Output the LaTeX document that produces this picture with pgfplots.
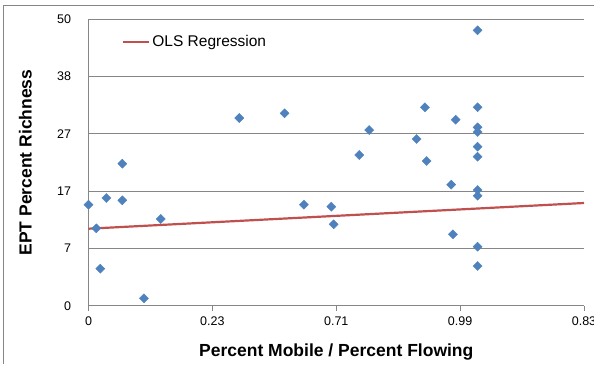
\documentclass[border=0pt]{standalone}
\usepackage{pgfplots}
\pgfplotsset{compat=1.18}
\usepackage{fontspec}
\setmainfont{Liberation Sans}
\definecolor{ptblue}{HTML}{4F81BD}
\definecolor{olsred}{HTML}{C0504D}
\definecolor{gridgray}{HTML}{868686}
\begin{document}
\begin{tikzpicture}[x=1pt,y=1pt]
\useasboundingbox (0,0) rectangle (594,364);
\draw[gridgray, line width=0.8pt] (3.5,0) -- (3.5,359) -- (594,359);
\begin{axis}[
  at={(88.5pt,58.3pt)}, anchor=south west,
  scale only axis, width=495.5pt, height=286.4pt,
  xmin=0, xmax=4, ymin=0, ymax=5,
  axis lines=left, axis line style={-, draw=gridgray, line width=0.8pt},
  xtick={0,1,2,3,4}, xticklabels={0,0.23,0.71,0.99,0.83},
  ytick={0,1,2,3,4,5}, yticklabels={0,7,17,27,38,50},
  ymajorgrids, grid style={gridgray, line width=0.8pt},
  tick align=outside, major tick length=5pt,
  xtick style={draw=gridgray, line width=0.8pt},
  ytick style={draw=none},
  tick label style={font=\fontsize{12.5}{14}\selectfont},
  xticklabel style={yshift=-3pt},
  yticklabel style={xshift=-9pt},
  /pgf/number format/assume math mode=true,
  xlabel={Percent Mobile / Percent Flowing},
  ylabel={EPT Percent Richness},
  label style={font=\bfseries\fontsize{17.5}{20}\selectfont},
  xlabel style={at={(rel axis cs:0.5,0)}, anchor=base, yshift=-50.8pt},
  ylabel style={at={(axis description cs:-0.1146,0.5)}, anchor=base},
  legend style={at={(rel axis cs:0.0616,0.9218)}, anchor=west, draw=none, fill=none,
    font=\fontsize{15.5}{17}\selectfont},
  legend image code/.code={\draw[#1] (0pt,0pt) -- (26pt,0pt);},
  clip=false,
]
\addplot[only marks, mark=square*, mark size=3.2pt, mark options={rotate=45, fill=ptblue, draw=ptblue}, forget plot] coordinates {
(0,1.763) (0.063,1.351) (0.095,0.646) (0.144,1.880) (0.273,1.840)
(0.448,0.129) (0.583,1.514) (0.273,2.479) (1.217,3.277) (1.583,3.359)
(1.739,1.763) (1.960,1.728) (1.979,1.421) (2.186,2.631) (2.266,3.067)
(2.649,2.910) (2.716,3.464) (2.730,2.526) (2.964,3.247) (2.928,2.112)
(2.942,1.246)
(3.141,4.808) (3.141,3.464) (3.141,3.114) (3.141,3.032) (3.141,2.776)
(3.141,2.601) (3.141,2.020) (3.141,1.920) (3.141,1.030) (3.141,0.693)
};
\addplot[olsred, line width=2.2pt] coordinates {(0,1.344) (4,1.793)};
\addlegendentry{OLS Regression}
\end{axis}
\end{tikzpicture}
\end{document}
